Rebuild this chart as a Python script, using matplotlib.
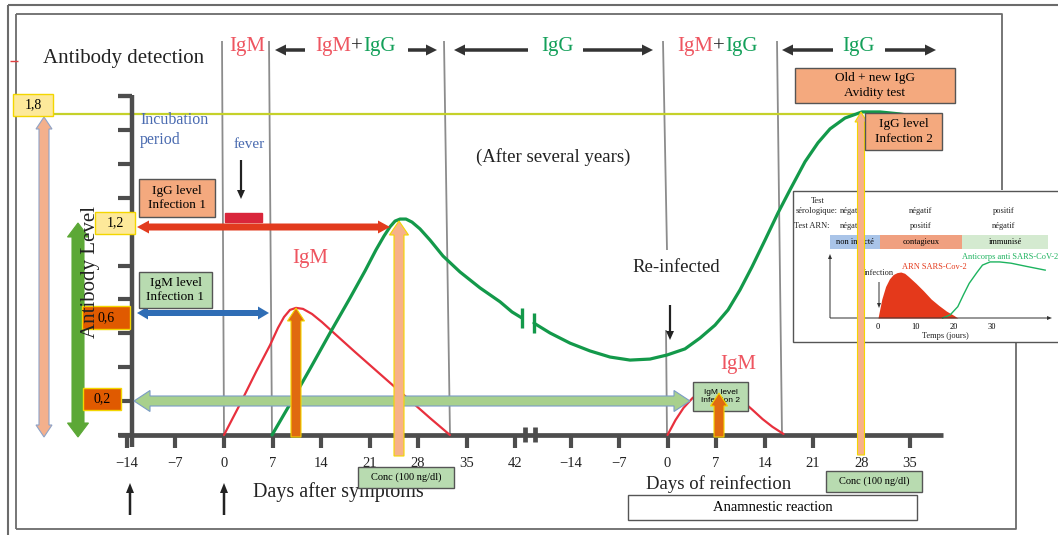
import matplotlib
matplotlib.use("Agg")
import matplotlib.pyplot as plt
import matplotlib.patches as mpatches
import matplotlib.transforms as mtransforms
import numpy as np

plt.rcParams['font.family'] = ['Liberation Serif', 'DejaVu Serif']

# ---- data ----
# first infection, days after symptoms -> antibody level (axis tick units)
igm1_days = [0, 2.31, 4.62, 6.64, 7.79, 8.66, 9.52, 10.39, 11.4, 12.7, 14.14, 16.02, 18.9, 22.51, 26.12, 29.73, 32.6]
igm1_level = [0, 0.91, 1.86, 2.65, 3.16, 3.48, 3.69, 3.75, 3.72, 3.57, 3.33, 2.98, 2.45, 1.8, 1.15, 0.5, 0]
igg1_days = [6.93, 9.52, 12.41, 15.3, 18.18, 20.35, 21.93, 23.09, 23.95, 24.68, 25.4, 26.26, 27.13,
             28.28, 29.73, 31.6, 34.05, 36.94, 39.83, 41.56, 43.0]
igg1_level = [0, 0.91, 1.95, 3.01, 4.04, 4.84, 5.46, 5.87, 6.14, 6.31, 6.37, 6.37, 6.28,
              6.08, 5.75, 5.28, 4.81, 4.34, 3.93, 3.63, 3.45]
# reinfection, days of reinfection
igm2_days = [0, 1.15, 2.31, 3.61, 5.05, 6.49, 7.94, 9.38, 10.82, 12.27, 13.71, 15.15, 16.74]
igm2_level = [0, 0.44, 0.8, 1.09, 1.3, 1.39, 1.36, 1.21, 1.0, 0.74, 0.47, 0.24, 0.03]
igg2_days = [-19.27, -16.96, -14.07, -11.19, -8.3, -5.41, -2.53, -0.07, 2.52, 4.69, 6.85, 8.73, 10.46,
             12.19, 14.07, 15.94, 17.67, 19.84, 21.71, 23.45, 25.61, 28.06, 30.66, 33.55, 36.43]
igg2_level = [3.3, 3.01, 2.71, 2.48, 2.3, 2.21, 2.24, 2.36, 2.54, 2.86, 3.24, 3.69, 4.28,
              4.96, 5.75, 6.55, 7.23, 8.06, 8.62, 9.03, 9.35, 9.53, 9.53, 9.47, 9.38]

days1_ticks = [-14, -7, 0, 7, 14, 21, 28, 35, 42]
days2_ticks = [-14, -7, 0, 7, 14, 21, 28, 35]
level_ticks = list(range(0, 11))

# inset: SARS-CoV-2 RNA and antibodies
rna_days = [0, 1, 2, 3, 4, 5, 6, 7, 8, 10, 12, 14, 16, 18, 20, 21]
rna_level = [0, 0.3, 0.5, 0.62, 0.69, 0.72, 0.73, 0.71, 0.66, 0.55, 0.43, 0.3, 0.2, 0.11, 0.04, 0]
ab_days = [17, 19, 21, 22.5, 24, 26, 27.5, 29.5, 32, 35, 39, 44]
ab_level = [0, 0.05, 0.18, 0.37, 0.55, 0.72, 0.84, 0.89, 0.89, 0.87, 0.82, 0.76]
inset_ticks = [0, 10, 20, 30]

# ---- figure ----
W, H = 1058, 535
fig = plt.figure(figsize=(W / 100, H / 100), dpi=100)
ax = fig.add_axes([0, 0, 1, 1])
ax.set_xlim(0, W)
ax.set_ylim(H, 0)
ax.axis('off')
px = ax.transData
SHIFT = 64  # position of reinfection day 0 on the shared time axis
tdat = mtransforms.Affine2D().scale(6.93, -33.9).translate(224, 435) + px
tin = mtransforms.Affine2D().scale(3.8, -63).translate(878, 318) + px

RED, GREEN = '#ee5560', '#14a05a'
AXC = '#4d4d4d'


def line(xs, ys, color, lw, z=2, tr=px, **kw):
    ax.plot(xs, ys, color=color, lw=lw, transform=tr, zorder=z, solid_capstyle='butt', **kw)


def block_arrow(x0, y0, x1, y1, w, hw, hl, fc, ec='none', both=False, lw=0.8, z=6):
    p0, p1 = np.array([x0, y0], float), np.array([x1, y1], float)
    d = (p1 - p0) / np.hypot(*(p1 - p0))
    n = np.array([-d[1], d[0]])
    b1 = p1 - d * hl
    pts = [p1, b1 + n * hw / 2, b1 + n * w / 2]
    if both:
        b0 = p0 + d * hl
        pts += [b0 + n * w / 2, b0 + n * hw / 2, p0, b0 - n * hw / 2, b0 - n * w / 2]
    else:
        pts += [p0 + n * w / 2, p0 - n * w / 2]
    pts += [b1 - n * w / 2, b1 - n * hw / 2]
    ax.add_patch(mpatches.Polygon(pts, closed=True, fc=fc, ec=ec, lw=lw, transform=px, zorder=z))


def box(x0, y0, x1, y1, text, fc, ec='#555555', size=9, z=7, lw=1, **kw):
    ax.add_patch(mpatches.Rectangle((x0, y0), x1 - x0, y1 - y0, fc=fc, ec=ec, lw=lw,
                                    transform=px, zorder=z))
    if text:
        ax.text((x0 + x1) / 2, (y0 + y1) / 2, text, ha='center', va='center', fontsize=size,
                transform=px, zorder=z + 0.1, linespacing=1.3, **kw)


def txt(x, y, s, size, color='#222222', ha='center', z=9, **kw):
    return ax.text(x, y, s, fontsize=size, color=color, ha=ha, va='center', transform=px, zorder=z, **kw)


renderer = fig.canvas.get_renderer()


def multi_text(x, y, parts, size):
    for s, c in parts:
        t = txt(x, y, s, size, color=c, ha='left')
        x += t.get_window_extent(renderer=renderer).width


def curve(xs, ys, color, lw):
    ax.plot(xs, ys, color=color, lw=lw, transform=tdat, zorder=5,
            solid_joinstyle='round', solid_capstyle='round')


# frames
line([8, W], [5, 5], '#6b6b6b', 1.5, z=1)
line([8, 8], [5, H], '#6b6b6b', 1.5, z=1)
line([16, 1002, 1002], [14, 14, 190], '#6b6b6b', 1.3, z=1)
line([16, 16], [14, 529], '#6b6b6b', 1.3, z=1)
line([16, 1016, 1016], [529, 529, 342], '#6b6b6b', 1.3, z=1)
line([10, 18], [61, 61], '#e04040', 1, z=1)

# phase separators
for xt, xb, y1, y0 in [(222, 224, 41, 435), (269, 272, 41, 435), (444, 450, 41, 435),
                       (663, 667, 41, 250), (666, 667, 330, 435), (777, 782, 41, 435)]:
    line([xt, xb], [y1, y0], '#8c8c8c', 1.3, z=2)

# 1.8 reference line
line([53, 855], [114, 114], '#c5d12a', 1.6, z=3)

# axes
line([132, 132], [95, 447], AXC, 3.2, z=4)
for lv in level_ticks:
    line([118, 132], [435 - 33.9 * lv] * 2, AXC, 3.0, z=4)
line([118, 132], [96, 96], AXC, 3.0, z=4)
line([118, 943], [435, 435], AXC, 3.4, z=4)
for d in days1_ticks:
    ax.plot([d, d], [0, -0.38], color=AXC, lw=3, transform=tdat, zorder=4, solid_capstyle='butt')
    ax.text(d, -0.83, '\u2212%d' % -d if d < 0 else str(d), fontsize=10.5, ha='center', va='center',
            transform=tdat, color='#222222')
for d in days2_ticks:
    ax.plot([d + SHIFT, d + SHIFT], [0, -0.38], color=AXC, lw=3, transform=tdat, zorder=4,
            solid_capstyle='butt')
    ax.text(d + SHIFT, -0.83, '\u2212%d' % -d if d < 0 else str(d), fontsize=10.5, ha='center',
            va='center', transform=tdat, color='#222222')
for xb in (525, 535):
    line([xb, xb], [427, 442], AXC, 3.4, z=4)

# curves
curve(igm1_days, igm1_level, '#e8303d', 1.6)
curve(igg1_days, igg1_level, '#13994a', 2.3)
curve([d + SHIFT for d in igm2_days], igm2_level, '#e8303d', 1.6)
curve([d + SHIFT for d in igg2_days], igg2_level, '#13994a', 2.3)
line([522, 522], [308, 328], '#13994a', 2.4, z=5)
line([534, 534], [313, 333], '#13994a', 2.4, z=5)

# header
txt(124, 58, 'Antibody detection', 15, ha='center')
multi_text(229, 47, [('IgM', RED)], 15)
multi_text(315, 47, [('IgM', RED), ('+', '#222222'), ('IgG', GREEN)], 15)
multi_text(541, 47, [('IgG', GREEN)], 15)
multi_text(677, 47, [('IgM', RED), ('+', '#222222'), ('IgG', GREEN)], 15)
multi_text(842, 47, [('IgG', GREEN)], 15)
for x0, x1 in [(305, 275), (408, 437), (528, 454), (583, 653), (833, 782), (885, 936)]:
    block_arrow(x0, 50, x1, 50, 3.5, 11, 11, '#333333', z=6)

# left level scale
block_arrow(44, 117, 44, 437, 10, 16, 12, '#f4b08c', ec='#8ea3c8', both=True, z=6)
block_arrow(78, 223, 78, 437, 12, 21, 14, '#5ca836', ec='#5ca836', both=True, z=6)
txt(90, 272, 'Antibody Level', 15, rotation=90, z=9)
box(13, 94, 53, 116, '1,8', '#fde99a', ec='#f3d600', size=10, z=8)
box(95, 212, 135, 234, '1,2', '#fde99a', ec='#f3d600', size=10, z=8)
box(82, 306, 130, 329, '0,6', '#e05a00', ec='#f3d600', size=10, z=8)
box(83, 388, 121, 410, '0,2', '#e05a00', ec='#f3d600', size=10, z=8)

# annotations of infection 1
txt(140, 130, 'Incubation\nperiod', 11.5, color='#4a6bb0', ha='left', linespacing=1.35)
txt(249, 145, 'fever', 11, color='#4a6bb0')
block_arrow(241, 160, 241, 199, 2.2, 8, 9, '#222222', z=6)
box(225, 213, 262, 222, None, '#d9263b', ec='#d9263b', z=6)
block_arrow(137, 227, 390, 227, 7, 13, 12, '#e23b1e', both=True, z=6)
box(139, 179, 215, 217, 'IgG level\nInfection 1', '#f4a97e', size=9.5)
block_arrow(137, 313, 269, 313, 6, 13, 11, '#2f6db5', both=True, z=6)
box(139, 272, 212, 308, 'IgM level\nInfection 1', '#b8dbb0', size=9.5)
block_arrow(134, 401, 690, 401, 10, 21, 16, '#a8d08d', ec='#7a9cc6', both=True, z=6)
txt(310, 258, 'IgM', 15, color=RED)
txt(553, 157, '(After several years)', 13.5)

# reinfection annotations
txt(676, 268, 'Re-infected', 13.5)
block_arrow(670, 305, 670, 340, 2.2, 8, 9, '#222222', z=6)
txt(738, 365, 'IgM', 15, color=RED)
box(693, 382, 748, 411, 'IgM level\nInfection 2', '#b8dbb0', size=6, z=7, family='Liberation Sans')

# inset
box(793, 191, 1070, 342, None, 'white', ec='#555555', z=8)
fs = 6
txt(818, 201, 'Test', fs, z=8.5)
txt(817, 211, 'sérologique:', fs, z=8.5)
txt(812, 226, 'Test ARN:', fs, z=8.5)
for xc, a, b in [(852, 'négatif', 'négatif'), (921, 'négatif', 'positif'), (1004, 'positif', 'négatif')]:
    txt(xc, 211, a, fs, z=8.5)
    txt(xc, 226, b, fs, z=8.5)
for x0, x1, c, s in [(830, 880, '#a9c4e8', 'non infecté'), (880, 962, '#f0a080', 'contagieux'),
                     (962, 1048, '#d4ead0', 'immunisé')]:
    box(x0, 235, x1, 249, s, c, ec='none', size=fs, z=8.5)
ax.fill_between(rna_days, rna_level, 0, color='#e4391b', lw=0, transform=tin, zorder=8.6)
ax.plot(ab_days, ab_level, color='#1db35f', lw=1, transform=tin, zorder=8.6)
block_arrow(830, 318, 830, 254, 1, 4, 5, '#333333', z=8.7)
block_arrow(830, 318, 1052, 318, 1, 4, 5, '#333333', z=8.7)
for d in inset_ticks:
    ax.text(d, -0.14, str(d), fontsize=fs, ha='center', va='center', transform=tin, zorder=8.7)
txt(945, 336, 'Temps (jours)', fs, z=8.7)
txt(934, 267, 'ARN SARS-Cov-2', fs, color='#e4391b', z=8.7)
txt(1010, 257, 'Anticorps anti SARS-CoV-2', fs, color='#1db35f', z=8.7)
txt(879, 273, 'infection', fs, z=8.7)
block_arrow(879, 282, 879, 308, 1, 4, 5, '#333333', z=8.7)

# concentration arrows
block_arrow(296, 437, 296, 308, 10, 17, 13, '#e06a10', ec='#f3d600', z=10)
block_arrow(399, 456, 399, 221, 10, 19, 14, '#f7b189', ec='#f3d600', z=10)
block_arrow(719, 437, 719, 393, 10, 17, 13, '#e06a10', ec='#f3d600', z=10)
block_arrow(861, 455, 861, 112, 7, 12, 10, '#f7b189', ec='#f3d600', z=10)

# upper right boxes
box(795, 68, 955, 103, 'Old + new IgG\nAvidity test', '#f4a97e', size=9.5, z=7)
box(865, 113, 942, 150, 'IgG level\nInfection 2', '#f4a97e', size=9.5, z=11)

# bottom
box(358, 467, 454, 488, 'Conc (100 ng/dl)', '#b8dbb0', size=7.5, z=11)
box(826, 471, 922, 492, 'Conc (100 ng/dl)', '#b8dbb0', size=7.5, z=11)
txt(338, 492, 'Days after symptoms', 14.5)
txt(719, 484, 'Days of reinfection', 13.5)
box(628, 495, 917, 520, 'Anamnestic reaction', 'white', size=10.5, z=7)
for xa in (130, 224):
    block_arrow(xa, 515, xa, 483, 2.5, 8, 10, '#222222', z=6)

fig.savefig('out.png', dpi=100)
